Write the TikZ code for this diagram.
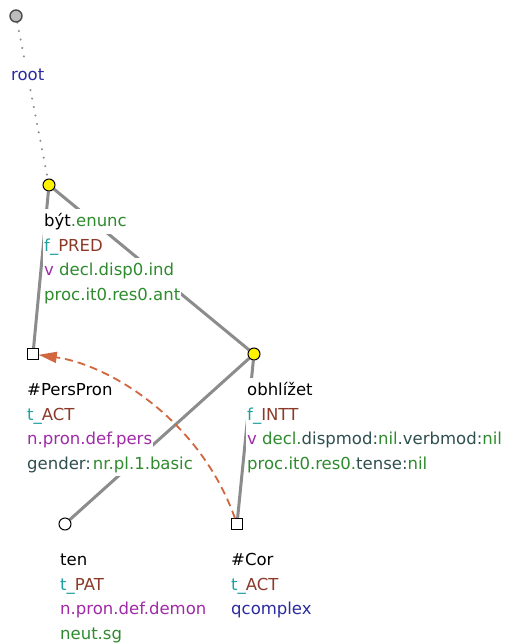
\documentclass[tikz,border=0pt]{standalone}
\usepackage{fontspec}
\setmainfont{DejaVu Sans}
\usepackage{xcolor}
\usepackage{tikz}
\usetikzlibrary{positioning,arrows.meta,backgrounds}
\definecolor{cteal}{HTML}{1FA0A0}
\definecolor{cbrown}{HTML}{8B3A2A}
\definecolor{cpurple}{HTML}{A02AA8}
\definecolor{cgreen}{HTML}{2E8B2E}
\definecolor{cslate}{HTML}{2F4F4F}
\definecolor{cblue}{HTML}{2B2BA0}
\definecolor{cedge}{HTML}{8C8C8C}
\definecolor{ccoref}{HTML}{D0673F}
\definecolor{croot}{HTML}{BDBDBD}

\newcommand\tl[1]{{\setlength\fboxsep{0pt}\colorbox{white}{\rule[-7pt]{0pt}{24.5pt}\kern1pt#1\kern1pt}}}

\begin{document}
\begin{tikzpicture}[x=1pt,y=-1pt,
      font=\fontsize{16.5}{24.5}\selectfont,
      anode/.style={circle,draw=black,fill=yellow,line width=1pt,minimum size=12pt,inner sep=0pt},
      cnode/.style={anode,fill=white},
      qnode/.style={rectangle,draw=black,fill=white,line width=1pt,minimum size=10.5pt,inner sep=0pt},
      rnode/.style={circle,draw=black!70,fill=croot,line width=1.4pt,minimum size=12pt,inner sep=0pt},
      lbl/.style={inner sep=0pt,align=left},
      edge/.style={draw=cedge,line width=3pt},
      rootedge/.style={draw=black!45,line width=2.2pt,line cap=round,dash pattern=on 0.1pt off 8.5pt},
      coref/.style={draw=ccoref,line width=1.8pt,dash pattern=on 8pt off 5pt,
                    -{Triangle[length=18pt,width=11pt]}}]

    \useasboundingbox (0,0) rectangle (506,643);

    \node[rnode] (root) at (16,16) {};
    \node[anode] (byt) at (49,185) {};
    \node[qnode] (perspron) at (33,354) {};
    \node[anode] (obhl) at (254,354) {};
    \node[cnode] (ten) at (65,524) {};
    \node[qnode] (cor) at (237,524) {};

    \node[lbl,below right=46.5pt and -6pt of root.center] (rootlab)
      {\tl{\color{cblue}root}};
    \node[lbl,below right=24pt and -6pt of byt.center] (bytlab)
      {\tl{být\textcolor{cgreen}{.enunc}}\\
       \tl{\textcolor{cteal}{f\_}\textcolor{cbrown}{PRED}}\\
       \tl{\textcolor{cpurple}{v} \textcolor{cgreen}{decl.disp0.ind}}\\
       \tl{\textcolor{cgreen}{proc.it0.res0.ant}}};
    \node[lbl,below right=24pt and -7pt of perspron.center] (perspronlab)
      {\tl{\#PersPron}\\
       \tl{\textcolor{cteal}{t\_}\textcolor{cbrown}{ACT}}\\
       \tl{\textcolor{cpurple}{n.pron.def.pers}}\\
       \tl{\textcolor{cslate}{gender:}\kern2pt\textcolor{cgreen}{nr.pl.1.basic}}};
    \node[lbl,below right=24pt and -8pt of obhl.center] (obhllab)
      {\tl{obhlížet}\\
       \tl{\textcolor{cteal}{f\_}\textcolor{cbrown}{INTT}}\\
       \tl{\textcolor{cpurple}{v} \textcolor{cgreen}{decl.}\textcolor{cslate}{dispmod:}\textcolor{cgreen}{nil}\textcolor{cslate}{.verbmod:}\textcolor{cgreen}{nil}}\\
       \tl{\textcolor{cgreen}{proc.it0.res0.}\textcolor{cslate}{tense:}\textcolor{cgreen}{nil}}};
    \node[lbl,below right=24pt and -6pt of ten.center] (tenlab)
      {\tl{ten}\\
       \tl{\textcolor{cteal}{t\_}\textcolor{cbrown}{PAT}}\\
       \tl{\textcolor{cpurple}{n.pron.def.demon}}\\
       \tl{\textcolor{cgreen}{neut.sg}}};
    \node[lbl,below right=24pt and -7pt of cor.center] (corlab)
      {\tl{\#Cor}\\
       \tl{\textcolor{cteal}{t\_}\textcolor{cbrown}{ACT}}\\
       \tl{\textcolor{cblue}{qcomplex}}};

    \begin{scope}[on background layer]
      \fill[white] (0,0) rectangle (506,643);
      \draw[rootedge] (root) -- (byt);
      \draw[edge] (byt) -- (perspron);
      \draw[edge] (byt) -- (obhl);
      \draw[edge] (obhl) -- (ten);
      \draw[edge] (obhl) -- (cor);
    \end{scope}

    \draw[coref] (cor) .. controls +(-37,-104) and +(77,11) .. (perspron);
  \end{tikzpicture}
\end{document}
